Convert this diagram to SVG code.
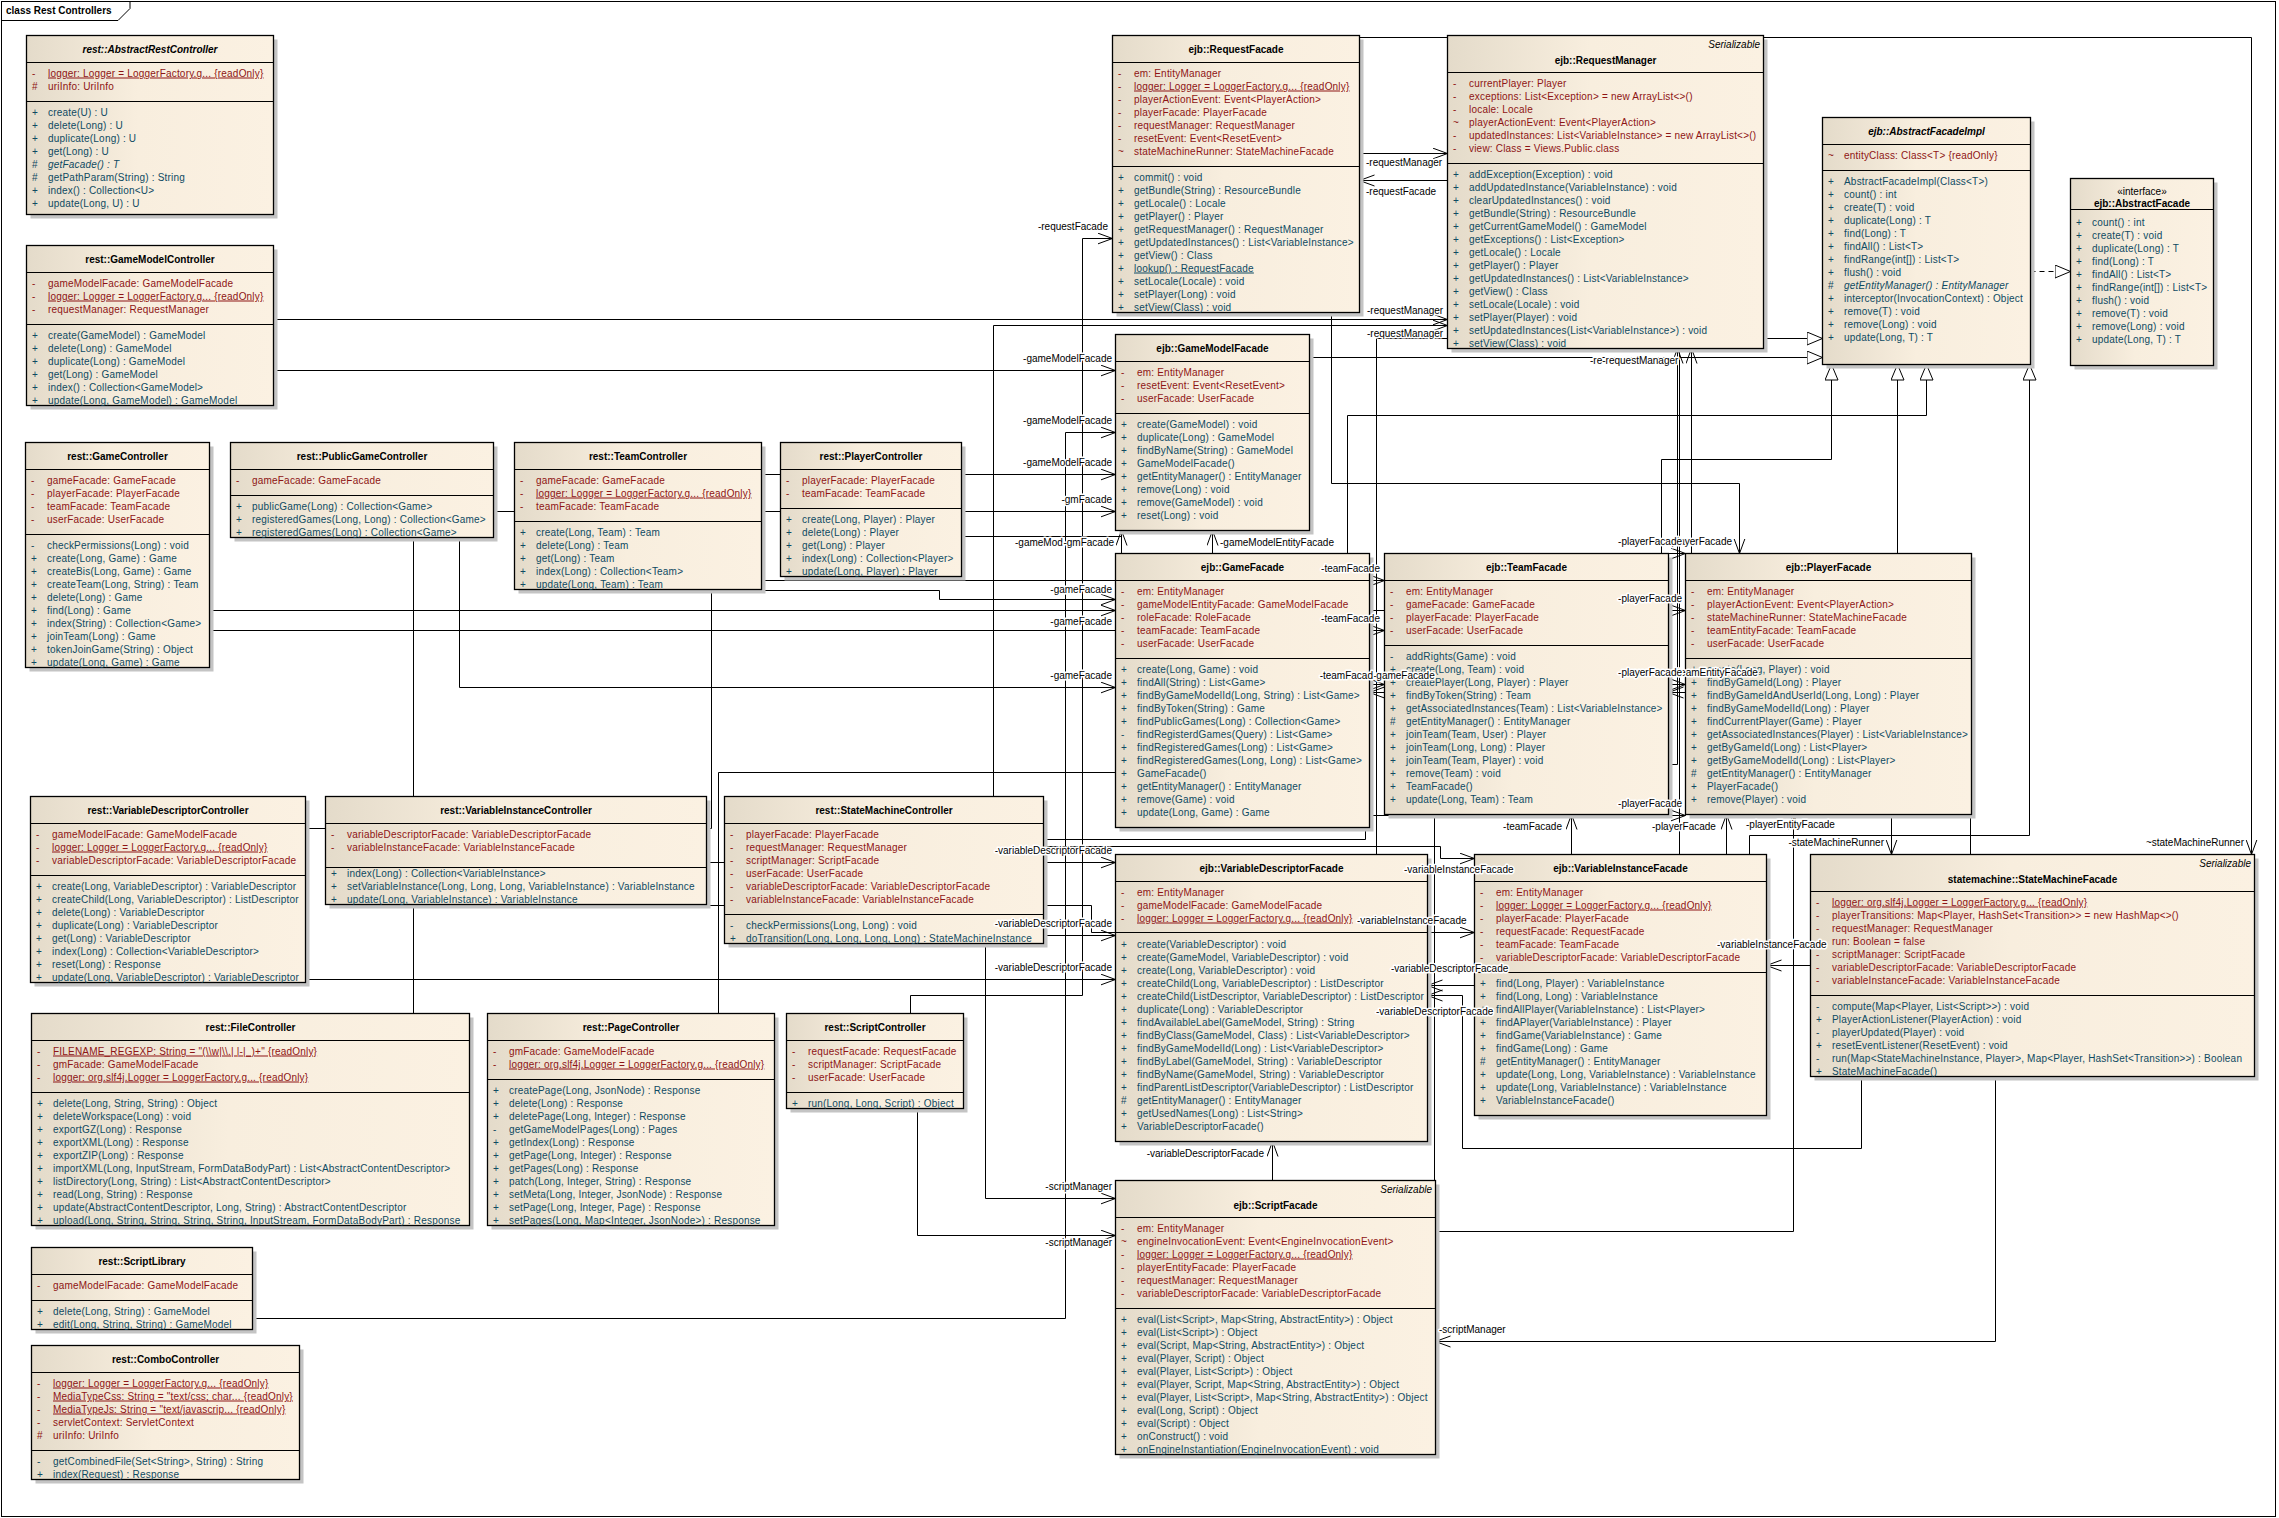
<svg xmlns="http://www.w3.org/2000/svg" width="2279" height="1518" viewBox="0 0 2279 1518" xml:space="preserve">
<defs>
<linearGradient id="g" x1="0" y1="0" x2="1" y2="0"><stop offset="0" stop-color="#E4DBCA"/><stop offset="0.45" stop-color="#F8EEDE"/><stop offset="1" stop-color="#FBF1E2"/></linearGradient>
<marker id="ar" markerUnits="userSpaceOnUse" markerWidth="17" markerHeight="13" refX="15" refY="6" orient="auto"><path d="M0,0.5 L15,6 L0,11.5" fill="none" stroke="#000" stroke-width="1"/></marker>
<marker id="tr" markerUnits="userSpaceOnUse" markerWidth="18" markerHeight="14" refX="16" refY="7" orient="auto"><path d="M0.5,0.5 L16,7 L0.5,13.5 Z" fill="#fff" stroke="#000" stroke-width="1"/></marker>
<style>
.t{font-family:"Liberation Sans",Arial,sans-serif;font-size:10px}
.ti{font-weight:bold;text-anchor:middle;fill:#000}
.it{font-style:italic}
.a{fill:#8E1414;letter-spacing:0.2px}
.m{fill:#0E4A62;letter-spacing:0.2px}
.u{text-decoration:underline}
.box{fill:url(#g);stroke:#000;stroke-width:1.3}
.sh{fill:#C4C4C4}
.sep{stroke:#000;stroke-width:1;fill:none}
.c{fill:none;stroke:#000;stroke-width:1}
.ca{fill:none;stroke:#000;stroke-width:1;marker-end:url(#ar)}
.cg{fill:none;stroke:#000;stroke-width:1;marker-end:url(#tr)}
.lb{font-family:"Liberation Sans",Arial,sans-serif;font-size:10px;fill:#000;stroke:#fff;stroke-width:3;paint-order:stroke;stroke-linejoin:round}
.e{text-anchor:end}
.st{font-family:"Liberation Sans",Arial,sans-serif;font-size:10px;font-style:italic;text-anchor:end;fill:#000}
</style>
</defs>
<rect x="0" y="0" width="2279" height="1518" fill="#fff"/>
<g id="frame">
<rect x="1.5" y="1.5" width="2274" height="1515" fill="none" stroke="#000" stroke-width="1"/>
<path d="M1.5,20.5 H118 L130,8.5 V1.5" fill="none" stroke="#000" stroke-width="1"/>
<text class="t" x="6" y="14" font-weight="bold">class Rest Controllers</text>
</g>

<g id="connectors">
<path class="ca" d="M1359.5,37.5 H2251.5 V854.5"/>
<path class="ca" d="M1359.5,153.5 H1447.5"/>
<path class="ca" d="M1679.5,854.5 V180.5 H1359.5"/>
<path class="ca" d="M273.5,319.5 H1447.5"/>
<path class="ca" d="M993.5,796.5 V325.5 H1447.5"/>
<path class="ca" d="M273.5,370.5 H1115.5"/>
<path class="ca" d="M910.5,1013.5 V995.5 H1082.5 V238.5 H1112.5"/>
<path class="ca" d="M252.5,1318.5 H1065.5 V432.5 H1115.5"/>
<path class="ca" d="M305.5,828.5 H711.5 V474.5 H1115.5"/>
<path class="ca" d="M413.5,1013.5 V511.5 H1115.5"/>
<path class="cg" d="M1309.5,357.5 H1822.5"/>
<path class="cg" d="M1376.5,854.5 V338.5 H1822.5"/>
<path class="cg" d="M1347.5,553.5 V415.5 H1926.5 V364.5"/>
<path class="cg" d="M1661.5,553.5 V459.5 H1831.5 V364.5"/>
<path class="cg" d="M1897.5,553.5 V364.5"/>
<path class="cg" d="M1749.5,854.5 V835.5 H2029.5 V364.5"/>
<path class="cg" d="M2030.5,271.5 H2070.5" stroke-dasharray="5,4"/>
<path class="ca" d="M1331.5,312.5 V483.5 H1739.5 V553.5"/>
<path class="ca" d="M1668.5,553.5 H1685.5"/>
<path class="ca" d="M209.5,610.5 H1685.5"/>
<path class="ca" d="M1100,610.5 H1115.5"/>
<path class="ca" d="M209.5,630.5 H1384.5"/>
<path class="ca" d="M761.5,580.5 H1384.5"/>
<path class="ca" d="M761.5,590.5 H939.5 V599.5 H1115.5"/>
<path class="ca" d="M459.5,537.5 V687.5 H1115.5"/>
<path class="ca" d="M1369.5,684.5 H1384.5"/>
<path class="ca" d="M1384.5,692.5 H1369.5"/>
<path class="ca" d="M1668.5,684.5 H1685.5"/>
<path class="ca" d="M1685.5,692.5 H1668.5"/>
<path class="ca" d="M1043.5,839.5 H1365.5 V815.5 H1685.5"/>
<path class="ca" d="M1571.5,854.5 V814.5"/>
<path class="ca" d="M1726.5,854.5 V814.5"/>
<path class="ca" d="M1435.5,1231.5 H1793.5 V814.5"/>
<path class="ca" d="M1891.5,814.5 V854.5"/>
<path class="c" d="M1970.5,814.5 V854.5"/>
<path class="ca" d="M1810.5,965.5 H1766.5"/>
<path class="ca" d="M1861.5,1076.5 V1148.5 H1462.5 V995.5 H1427.5"/>
<path class="ca" d="M1474.5,985.5 H1427.5"/>
<path class="ca" d="M1995.5,1076.5 V1341.5 H1435.5"/>
<path class="ca" d="M1272.5,1180.5 V1141.5"/>
<path class="ca" d="M1434.5,1180.5 V764.5 H1677.5 V348.5"/>
<path class="ca" d="M1691.5,553.5 V348.5"/>
<path class="ca" d="M706.5,905.5 H1091.5 V932.5 H1474.5"/>
<path class="ca" d="M706.5,862.5 H1115.5"/>
<path class="ca" d="M305.5,979.5 H1115.5"/>
<path class="ca" d="M1043.5,935.5 H1115.5"/>
<path class="ca" d="M1043.5,846.5 H1440.5 V858.5 H1474.5"/>
<path class="ca" d="M917.5,1108.5 V1235.5 H1115.5"/>
<path class="ca" d="M985.5,943.5 V1198.5 H1115.5"/>
<path class="ca" d="M1212.5,553.5 V530.5"/>
<path class="ca" d="M718.5,1013.5 V772.5 H1121.5 V530.5"/>
<path class="c" d="M961.5,536.5 H1121.5"/>
</g>

<g id="n-arc">
<rect class="sh" x="30.5" y="39.5" width="247" height="179"/>
<rect class="box" x="26.5" y="35.5" width="247" height="179"/>
<path class="sep" d="M26.5,62.5H273.5M26.5,101.5H273.5"/>
<text class="t ti it" x="150" y="53">rest::AbstractRestController</text>
<text class="t a" y="76.5"><tspan x="32">-</tspan><tspan x="48" class="u">logger:  Logger = LoggerFactory.g... {readOnly}</tspan></text>
<text class="t a" y="89.5"><tspan x="32">#</tspan><tspan x="48">uriInfo:  UriInfo</tspan></text>
<text class="t m" y="115.5"><tspan x="32">+</tspan><tspan x="48">create(U) : U</tspan></text>
<text class="t m" y="128.5"><tspan x="32">+</tspan><tspan x="48">delete(Long) : U</tspan></text>
<text class="t m" y="141.5"><tspan x="32">+</tspan><tspan x="48">duplicate(Long) : U</tspan></text>
<text class="t m" y="154.5"><tspan x="32">+</tspan><tspan x="48">get(Long) : U</tspan></text>
<text class="t m" y="167.5"><tspan x="32">#</tspan><tspan x="48" class="it">getFacade() : T</tspan></text>
<text class="t m" y="180.5"><tspan x="32">#</tspan><tspan x="48">getPathParam(String) : String</tspan></text>
<text class="t m" y="193.5"><tspan x="32">+</tspan><tspan x="48">index() : Collection&lt;U&gt;</tspan></text>
<text class="t m" y="206.5"><tspan x="32">+</tspan><tspan x="48">update(Long, U) : U</tspan></text>
</g>

<g id="n-gmc">
<rect class="sh" x="30.5" y="249.5" width="247" height="160"/>
<rect class="box" x="26.5" y="245.5" width="247" height="160"/>
<path class="sep" d="M26.5,272.5H273.5M26.5,324.5H273.5"/>
<text class="t ti" x="150" y="263">rest::GameModelController</text>
<text class="t a" y="286.5"><tspan x="32">-</tspan><tspan x="48">gameModelFacade:  GameModelFacade</tspan></text>
<text class="t a" y="299.5"><tspan x="32">-</tspan><tspan x="48" class="u">logger:  Logger = LoggerFactory.g... {readOnly}</tspan></text>
<text class="t a" y="312.5"><tspan x="32">-</tspan><tspan x="48">requestManager:  RequestManager</tspan></text>
<text class="t m" y="338.5"><tspan x="32">+</tspan><tspan x="48">create(GameModel) : GameModel</tspan></text>
<text class="t m" y="351.5"><tspan x="32">+</tspan><tspan x="48">delete(Long) : GameModel</tspan></text>
<text class="t m" y="364.5"><tspan x="32">+</tspan><tspan x="48">duplicate(Long) : GameModel</tspan></text>
<text class="t m" y="377.5"><tspan x="32">+</tspan><tspan x="48">get(Long) : GameModel</tspan></text>
<text class="t m" y="390.5"><tspan x="32">+</tspan><tspan x="48">index() : Collection&lt;GameModel&gt;</tspan></text>
<text class="t m" y="403.5"><tspan x="32">+</tspan><tspan x="48">update(Long, GameModel) : GameModel</tspan></text>
</g>

<g id="n-gc">
<rect class="sh" x="29.5" y="446.5" width="184" height="225"/>
<rect class="box" x="25.5" y="442.5" width="184" height="225"/>
<path class="sep" d="M25.5,469.5H209.5M25.5,534.5H209.5"/>
<text class="t ti" x="117.5" y="460">rest::GameController</text>
<text class="t a" y="483.5"><tspan x="31">-</tspan><tspan x="47">gameFacade:  GameFacade</tspan></text>
<text class="t a" y="496.5"><tspan x="31">-</tspan><tspan x="47">playerFacade:  PlayerFacade</tspan></text>
<text class="t a" y="509.5"><tspan x="31">-</tspan><tspan x="47">teamFacade:  TeamFacade</tspan></text>
<text class="t a" y="522.5"><tspan x="31">-</tspan><tspan x="47">userFacade:  UserFacade</tspan></text>
<text class="t m" y="548.5"><tspan x="31">-</tspan><tspan x="47">checkPermissions(Long) : void</tspan></text>
<text class="t m" y="561.5"><tspan x="31">+</tspan><tspan x="47">create(Long, Game) : Game</tspan></text>
<text class="t m" y="574.5"><tspan x="31">+</tspan><tspan x="47">createBis(Long, Game) : Game</tspan></text>
<text class="t m" y="587.5"><tspan x="31">+</tspan><tspan x="47">createTeam(Long, String) : Team</tspan></text>
<text class="t m" y="600.5"><tspan x="31">+</tspan><tspan x="47">delete(Long) : Game</tspan></text>
<text class="t m" y="613.5"><tspan x="31">+</tspan><tspan x="47">find(Long) : Game</tspan></text>
<text class="t m" y="626.5"><tspan x="31">+</tspan><tspan x="47">index(String) : Collection&lt;Game&gt;</tspan></text>
<text class="t m" y="639.5"><tspan x="31">+</tspan><tspan x="47">joinTeam(Long) : Game</tspan></text>
<text class="t m" y="652.5"><tspan x="31">+</tspan><tspan x="47">tokenJoinGame(String) : Object</tspan></text>
<text class="t m" y="665.5"><tspan x="31">+</tspan><tspan x="47">update(Long, Game) : Game</tspan></text>
</g>

<g id="n-pgc">
<rect class="sh" x="234.5" y="446.5" width="263" height="95"/>
<rect class="box" x="230.5" y="442.5" width="263" height="95"/>
<path class="sep" d="M230.5,469.5H493.5M230.5,495.5H493.5"/>
<text class="t ti" x="362" y="460">rest::PublicGameController</text>
<text class="t a" y="483.5"><tspan x="236">-</tspan><tspan x="252">gameFacade:  GameFacade</tspan></text>
<text class="t m" y="509.5"><tspan x="236">+</tspan><tspan x="252">publicGame(Long) : Collection&lt;Game&gt;</tspan></text>
<text class="t m" y="522.5"><tspan x="236">+</tspan><tspan x="252">registeredGames(Long, Long) : Collection&lt;Game&gt;</tspan></text>
<text class="t m" y="535.5"><tspan x="236">+</tspan><tspan x="252">registeredGames(Long) : Collection&lt;Game&gt;</tspan></text>
</g>

<g id="n-tc">
<rect class="sh" x="518.5" y="446.5" width="247" height="147"/>
<rect class="box" x="514.5" y="442.5" width="247" height="147"/>
<path class="sep" d="M514.5,469.5H761.5M514.5,521.5H761.5"/>
<text class="t ti" x="638" y="460">rest::TeamController</text>
<text class="t a" y="483.5"><tspan x="520">-</tspan><tspan x="536">gameFacade:  GameFacade</tspan></text>
<text class="t a" y="496.5"><tspan x="520">-</tspan><tspan x="536" class="u">logger:  Logger = LoggerFactory.g... {readOnly}</tspan></text>
<text class="t a" y="509.5"><tspan x="520">-</tspan><tspan x="536">teamFacade:  TeamFacade</tspan></text>
<text class="t m" y="535.5"><tspan x="520">+</tspan><tspan x="536">create(Long, Team) : Team</tspan></text>
<text class="t m" y="548.5"><tspan x="520">+</tspan><tspan x="536">delete(Long) : Team</tspan></text>
<text class="t m" y="561.5"><tspan x="520">+</tspan><tspan x="536">get(Long) : Team</tspan></text>
<text class="t m" y="574.5"><tspan x="520">+</tspan><tspan x="536">index(Long) : Collection&lt;Team&gt;</tspan></text>
<text class="t m" y="587.5"><tspan x="520">+</tspan><tspan x="536">update(Long, Team) : Team</tspan></text>
</g>

<g id="n-pc">
<rect class="sh" x="784.5" y="446.5" width="181" height="134"/>
<rect class="box" x="780.5" y="442.5" width="181" height="134"/>
<path class="sep" d="M780.5,469.5H961.5M780.5,508.5H961.5"/>
<text class="t ti" x="871" y="460">rest::PlayerController</text>
<text class="t a" y="483.5"><tspan x="786">-</tspan><tspan x="802">playerFacade:  PlayerFacade</tspan></text>
<text class="t a" y="496.5"><tspan x="786">-</tspan><tspan x="802">teamFacade:  TeamFacade</tspan></text>
<text class="t m" y="522.5"><tspan x="786">+</tspan><tspan x="802">create(Long, Player) : Player</tspan></text>
<text class="t m" y="535.5"><tspan x="786">+</tspan><tspan x="802">delete(Long) : Player</tspan></text>
<text class="t m" y="548.5"><tspan x="786">+</tspan><tspan x="802">get(Long) : Player</tspan></text>
<text class="t m" y="561.5"><tspan x="786">+</tspan><tspan x="802">index(Long) : Collection&lt;Player&gt;</tspan></text>
<text class="t m" y="574.5"><tspan x="786">+</tspan><tspan x="802">update(Long, Player) : Player</tspan></text>
</g>

<g id="n-vdc">
<rect class="sh" x="34.5" y="800.5" width="275" height="186"/>
<rect class="box" x="30.5" y="796.5" width="275" height="186"/>
<path class="sep" d="M30.5,823.5H305.5M30.5,875.5H305.5"/>
<text class="t ti" x="168" y="814">rest::VariableDescriptorController</text>
<text class="t a" y="837.5"><tspan x="36">-</tspan><tspan x="52">gameModelFacade:  GameModelFacade</tspan></text>
<text class="t a" y="850.5"><tspan x="36">-</tspan><tspan x="52" class="u">logger:  Logger = LoggerFactory.g... {readOnly}</tspan></text>
<text class="t a" y="863.5"><tspan x="36">-</tspan><tspan x="52">variableDescriptorFacade:  VariableDescriptorFacade</tspan></text>
<text class="t m" y="889.5"><tspan x="36">+</tspan><tspan x="52">create(Long, VariableDescriptor) : VariableDescriptor</tspan></text>
<text class="t m" y="902.5"><tspan x="36">+</tspan><tspan x="52">createChild(Long, VariableDescriptor) : ListDescriptor</tspan></text>
<text class="t m" y="915.5"><tspan x="36">+</tspan><tspan x="52">delete(Long) : VariableDescriptor</tspan></text>
<text class="t m" y="928.5"><tspan x="36">+</tspan><tspan x="52">duplicate(Long) : VariableDescriptor</tspan></text>
<text class="t m" y="941.5"><tspan x="36">+</tspan><tspan x="52">get(Long) : VariableDescriptor</tspan></text>
<text class="t m" y="954.5"><tspan x="36">+</tspan><tspan x="52">index(Long) : Collection&lt;VariableDescriptor&gt;</tspan></text>
<text class="t m" y="967.5"><tspan x="36">+</tspan><tspan x="52">reset(Long) : Response</tspan></text>
<text class="t m" y="980.5"><tspan x="36">+</tspan><tspan x="52">update(Long, VariableDescriptor) : VariableDescriptor</tspan></text>
</g>

<g id="n-vic">
<rect class="sh" x="329.5" y="800.5" width="381" height="108"/>
<rect class="box" x="325.5" y="796.5" width="381" height="108"/>
<path class="sep" d="M325.5,823.5H706.5M325.5,867.5H706.5"/>
<text class="t ti" x="516" y="814">rest::VariableInstanceController</text>
<text class="t a" y="837.5"><tspan x="331">-</tspan><tspan x="347">variableDescriptorFacade:  VariableDescriptorFacade</tspan></text>
<text class="t a" y="850.5"><tspan x="331">-</tspan><tspan x="347">variableInstanceFacade:  VariableInstanceFacade</tspan></text>
<text class="t m" y="876.5"><tspan x="331">+</tspan><tspan x="347">index(Long) : Collection&lt;VariableInstance&gt;</tspan></text>
<text class="t m" y="889.5"><tspan x="331">+</tspan><tspan x="347">setVariableInstance(Long, Long, Long, VariableInstance) : VariableInstance</tspan></text>
<text class="t m" y="902.5"><tspan x="331">+</tspan><tspan x="347">update(Long, VariableInstance) : VariableInstance</tspan></text>
</g>

<g id="n-smc">
<rect class="sh" x="728.5" y="800.5" width="319" height="147"/>
<rect class="box" x="724.5" y="796.5" width="319" height="147"/>
<path class="sep" d="M724.5,823.5H1043.5M724.5,914.5H1043.5"/>
<text class="t ti" x="884" y="814">rest::StateMachineController</text>
<text class="t a" y="837.5"><tspan x="730">-</tspan><tspan x="746">playerFacade:  PlayerFacade</tspan></text>
<text class="t a" y="850.5"><tspan x="730">-</tspan><tspan x="746">requestManager:  RequestManager</tspan></text>
<text class="t a" y="863.5"><tspan x="730">-</tspan><tspan x="746">scriptManager:  ScriptFacade</tspan></text>
<text class="t a" y="876.5"><tspan x="730">-</tspan><tspan x="746">userFacade:  UserFacade</tspan></text>
<text class="t a" y="889.5"><tspan x="730">-</tspan><tspan x="746">variableDescriptorFacade:  VariableDescriptorFacade</tspan></text>
<text class="t a" y="902.5"><tspan x="730">-</tspan><tspan x="746">variableInstanceFacade:  VariableInstanceFacade</tspan></text>
<text class="t m" y="928.5"><tspan x="730">-</tspan><tspan x="746">checkPermissions(Long, Long) : void</tspan></text>
<text class="t m" y="941.5"><tspan x="730">+</tspan><tspan x="746">doTransition(Long, Long, Long, Long) : StateMachineInstance</tspan></text>
</g>

<g id="n-fc">
<rect class="sh" x="35.5" y="1017.5" width="438" height="212"/>
<rect class="box" x="31.5" y="1013.5" width="438" height="212"/>
<path class="sep" d="M31.5,1040.5H469.5M31.5,1092.5H469.5"/>
<text class="t ti" x="250.5" y="1031">rest::FileController</text>
<text class="t a" y="1054.5"><tspan x="37">-</tspan><tspan x="53" class="u">FILENAME_REGEXP:  String = "(\\w|\\.| |-|_)+" {readOnly}</tspan></text>
<text class="t a" y="1067.5"><tspan x="37">-</tspan><tspan x="53">gmFacade:  GameModelFacade</tspan></text>
<text class="t a" y="1080.5"><tspan x="37">-</tspan><tspan x="53" class="u">logger:  org.slf4j.Logger = LoggerFactory.g... {readOnly}</tspan></text>
<text class="t m" y="1106.5"><tspan x="37">+</tspan><tspan x="53">delete(Long, String, String) : Object</tspan></text>
<text class="t m" y="1119.5"><tspan x="37">+</tspan><tspan x="53">deleteWorkspace(Long) : void</tspan></text>
<text class="t m" y="1132.5"><tspan x="37">+</tspan><tspan x="53">exportGZ(Long) : Response</tspan></text>
<text class="t m" y="1145.5"><tspan x="37">+</tspan><tspan x="53">exportXML(Long) : Response</tspan></text>
<text class="t m" y="1158.5"><tspan x="37">+</tspan><tspan x="53">exportZIP(Long) : Response</tspan></text>
<text class="t m" y="1171.5"><tspan x="37">+</tspan><tspan x="53">importXML(Long, InputStream, FormDataBodyPart) : List&lt;AbstractContentDescriptor&gt;</tspan></text>
<text class="t m" y="1184.5"><tspan x="37">+</tspan><tspan x="53">listDirectory(Long, String) : List&lt;AbstractContentDescriptor&gt;</tspan></text>
<text class="t m" y="1197.5"><tspan x="37">+</tspan><tspan x="53">read(Long, String) : Response</tspan></text>
<text class="t m" y="1210.5"><tspan x="37">+</tspan><tspan x="53">update(AbstractContentDescriptor, Long, String) : AbstractContentDescriptor</tspan></text>
<text class="t m" y="1223.5"><tspan x="37">+</tspan><tspan x="53">upload(Long, String, String, String, String, InputStream, FormDataBodyPart) : Response</tspan></text>
</g>

<g id="n-pgcn">
<rect class="sh" x="491.5" y="1017.5" width="287" height="212"/>
<rect class="box" x="487.5" y="1013.5" width="287" height="212"/>
<path class="sep" d="M487.5,1040.5H774.5M487.5,1079.5H774.5"/>
<text class="t ti" x="631" y="1031">rest::PageController</text>
<text class="t a" y="1054.5"><tspan x="493">-</tspan><tspan x="509">gmFacade:  GameModelFacade</tspan></text>
<text class="t a" y="1067.5"><tspan x="493">-</tspan><tspan x="509" class="u">logger:  org.slf4j.Logger = LoggerFactory.g... {readOnly}</tspan></text>
<text class="t m" y="1093.5"><tspan x="493">+</tspan><tspan x="509">createPage(Long, JsonNode) : Response</tspan></text>
<text class="t m" y="1106.5"><tspan x="493">+</tspan><tspan x="509">delete(Long) : Response</tspan></text>
<text class="t m" y="1119.5"><tspan x="493">+</tspan><tspan x="509">deletePage(Long, Integer) : Response</tspan></text>
<text class="t m" y="1132.5"><tspan x="493">-</tspan><tspan x="509">getGameModelPages(Long) : Pages</tspan></text>
<text class="t m" y="1145.5"><tspan x="493">+</tspan><tspan x="509">getIndex(Long) : Response</tspan></text>
<text class="t m" y="1158.5"><tspan x="493">+</tspan><tspan x="509">getPage(Long, Integer) : Response</tspan></text>
<text class="t m" y="1171.5"><tspan x="493">+</tspan><tspan x="509">getPages(Long) : Response</tspan></text>
<text class="t m" y="1184.5"><tspan x="493">+</tspan><tspan x="509">patch(Long, Integer, String) : Response</tspan></text>
<text class="t m" y="1197.5"><tspan x="493">+</tspan><tspan x="509">setMeta(Long, Integer, JsonNode) : Response</tspan></text>
<text class="t m" y="1210.5"><tspan x="493">+</tspan><tspan x="509">setPage(Long, Integer, Page) : Response</tspan></text>
<text class="t m" y="1223.5"><tspan x="493">+</tspan><tspan x="509">setPages(Long, Map&lt;Integer, JsonNode&gt;) : Response</tspan></text>
</g>

<g id="n-sc">
<rect class="sh" x="790.5" y="1017.5" width="177" height="95"/>
<rect class="box" x="786.5" y="1013.5" width="177" height="95"/>
<path class="sep" d="M786.5,1040.5H963.5M786.5,1092.5H963.5"/>
<text class="t ti" x="875" y="1031">rest::ScriptController</text>
<text class="t a" y="1054.5"><tspan x="792">-</tspan><tspan x="808">requestFacade:  RequestFacade</tspan></text>
<text class="t a" y="1067.5"><tspan x="792">-</tspan><tspan x="808">scriptManager:  ScriptFacade</tspan></text>
<text class="t a" y="1080.5"><tspan x="792">-</tspan><tspan x="808">userFacade:  UserFacade</tspan></text>
<text class="t m" y="1106.5"><tspan x="792">+</tspan><tspan x="808">run(Long, Long, Script) : Object</tspan></text>
</g>

<g id="n-sl">
<rect class="sh" x="35.5" y="1251.5" width="221" height="82"/>
<rect class="box" x="31.5" y="1247.5" width="221" height="82"/>
<path class="sep" d="M31.5,1274.5H252.5M31.5,1300.5H252.5"/>
<text class="t ti" x="142" y="1265">rest::ScriptLibrary</text>
<text class="t a" y="1288.5"><tspan x="37">-</tspan><tspan x="53">gameModelFacade:  GameModelFacade</tspan></text>
<text class="t m" y="1314.5"><tspan x="37">+</tspan><tspan x="53">delete(Long, String) : GameModel</tspan></text>
<text class="t m" y="1327.5"><tspan x="37">+</tspan><tspan x="53">edit(Long, String, String) : GameModel</tspan></text>
</g>

<g id="n-cc">
<rect class="sh" x="35.5" y="1349.5" width="268" height="134"/>
<rect class="box" x="31.5" y="1345.5" width="268" height="134"/>
<path class="sep" d="M31.5,1372.5H299.5M31.5,1450.5H299.5"/>
<text class="t ti" x="165.5" y="1363">rest::ComboController</text>
<text class="t a" y="1386.5"><tspan x="37">-</tspan><tspan x="53" class="u">logger:  Logger = LoggerFactory.g... {readOnly}</tspan></text>
<text class="t a" y="1399.5"><tspan x="37">-</tspan><tspan x="53" class="u">MediaTypeCss:  String = "text/css; char... {readOnly}</tspan></text>
<text class="t a" y="1412.5"><tspan x="37">-</tspan><tspan x="53" class="u">MediaTypeJs:  String = "text/javascrip... {readOnly}</tspan></text>
<text class="t a" y="1425.5"><tspan x="37">-</tspan><tspan x="53">servletContext:  ServletContext</tspan></text>
<text class="t a" y="1438.5"><tspan x="37">#</tspan><tspan x="53">uriInfo:  UriInfo</tspan></text>
<text class="t m" y="1464.5"><tspan x="37">-</tspan><tspan x="53">getCombinedFile(Set&lt;String&gt;, String) : String</tspan></text>
<text class="t m" y="1477.5"><tspan x="37">+</tspan><tspan x="53">index(Request) : Response</tspan></text>
</g>

<g id="n-rf">
<rect class="sh" x="1116.5" y="39.5" width="247" height="277"/>
<rect class="box" x="1112.5" y="35.5" width="247" height="277"/>
<path class="sep" d="M1112.5,62.5H1359.5M1112.5,166.5H1359.5"/>
<text class="t ti" x="1236" y="53">ejb::RequestFacade</text>
<text class="t a" y="76.5"><tspan x="1118">-</tspan><tspan x="1134">em:  EntityManager</tspan></text>
<text class="t a" y="89.5"><tspan x="1118">-</tspan><tspan x="1134" class="u">logger:  Logger = LoggerFactory.g... {readOnly}</tspan></text>
<text class="t a" y="102.5"><tspan x="1118">-</tspan><tspan x="1134">playerActionEvent:  Event&lt;PlayerAction&gt;</tspan></text>
<text class="t a" y="115.5"><tspan x="1118">-</tspan><tspan x="1134">playerFacade:  PlayerFacade</tspan></text>
<text class="t a" y="128.5"><tspan x="1118">-</tspan><tspan x="1134">requestManager:  RequestManager</tspan></text>
<text class="t a" y="141.5"><tspan x="1118">-</tspan><tspan x="1134">resetEvent:  Event&lt;ResetEvent&gt;</tspan></text>
<text class="t a" y="154.5"><tspan x="1118">~</tspan><tspan x="1134">stateMachineRunner:  StateMachineFacade</tspan></text>
<text class="t m" y="180.5"><tspan x="1118">+</tspan><tspan x="1134">commit() : void</tspan></text>
<text class="t m" y="193.5"><tspan x="1118">+</tspan><tspan x="1134">getBundle(String) : ResourceBundle</tspan></text>
<text class="t m" y="206.5"><tspan x="1118">+</tspan><tspan x="1134">getLocale() : Locale</tspan></text>
<text class="t m" y="219.5"><tspan x="1118">+</tspan><tspan x="1134">getPlayer() : Player</tspan></text>
<text class="t m" y="232.5"><tspan x="1118">+</tspan><tspan x="1134">getRequestManager() : RequestManager</tspan></text>
<text class="t m" y="245.5"><tspan x="1118">+</tspan><tspan x="1134">getUpdatedInstances() : List&lt;VariableInstance&gt;</tspan></text>
<text class="t m" y="258.5"><tspan x="1118">+</tspan><tspan x="1134">getView() : Class</tspan></text>
<text class="t m" y="271.5"><tspan x="1118">+</tspan><tspan x="1134" class="u">lookup() : RequestFacade</tspan></text>
<text class="t m" y="284.5"><tspan x="1118">+</tspan><tspan x="1134">setLocale(Locale) : void</tspan></text>
<text class="t m" y="297.5"><tspan x="1118">+</tspan><tspan x="1134">setPlayer(Long) : void</tspan></text>
<text class="t m" y="310.5"><tspan x="1118">+</tspan><tspan x="1134">setView(Class) : void</tspan></text>
</g>

<g id="n-rm">
<rect class="sh" x="1451.5" y="39.5" width="316" height="313"/>
<rect class="box" x="1447.5" y="35.5" width="316" height="313"/>
<path class="sep" d="M1447.5,72.5H1763.5M1447.5,163.5H1763.5"/>
<text class="st" x="1760" y="48">Serializable</text>
<text class="t ti" x="1605.5" y="64">ejb::RequestManager</text>
<text class="t a" y="86.5"><tspan x="1453">-</tspan><tspan x="1469">currentPlayer:  Player</tspan></text>
<text class="t a" y="99.5"><tspan x="1453">-</tspan><tspan x="1469">exceptions:  List&lt;Exception&gt; = new ArrayList&lt;&gt;()</tspan></text>
<text class="t a" y="112.5"><tspan x="1453">-</tspan><tspan x="1469">locale:  Locale</tspan></text>
<text class="t a" y="125.5"><tspan x="1453">~</tspan><tspan x="1469">playerActionEvent:  Event&lt;PlayerAction&gt;</tspan></text>
<text class="t a" y="138.5"><tspan x="1453">-</tspan><tspan x="1469">updatedInstances:  List&lt;VariableInstance&gt; = new ArrayList&lt;&gt;()</tspan></text>
<text class="t a" y="151.5"><tspan x="1453">-</tspan><tspan x="1469">view:  Class = Views.Public.class</tspan></text>
<text class="t m" y="177.5"><tspan x="1453">+</tspan><tspan x="1469">addException(Exception) : void</tspan></text>
<text class="t m" y="190.5"><tspan x="1453">+</tspan><tspan x="1469">addUpdatedInstance(VariableInstance) : void</tspan></text>
<text class="t m" y="203.5"><tspan x="1453">+</tspan><tspan x="1469">clearUpdatedInstances() : void</tspan></text>
<text class="t m" y="216.5"><tspan x="1453">+</tspan><tspan x="1469">getBundle(String) : ResourceBundle</tspan></text>
<text class="t m" y="229.5"><tspan x="1453">+</tspan><tspan x="1469">getCurrentGameModel() : GameModel</tspan></text>
<text class="t m" y="242.5"><tspan x="1453">+</tspan><tspan x="1469">getExceptions() : List&lt;Exception&gt;</tspan></text>
<text class="t m" y="255.5"><tspan x="1453">+</tspan><tspan x="1469">getLocale() : Locale</tspan></text>
<text class="t m" y="268.5"><tspan x="1453">+</tspan><tspan x="1469">getPlayer() : Player</tspan></text>
<text class="t m" y="281.5"><tspan x="1453">+</tspan><tspan x="1469">getUpdatedInstances() : List&lt;VariableInstance&gt;</tspan></text>
<text class="t m" y="294.5"><tspan x="1453">+</tspan><tspan x="1469">getView() : Class</tspan></text>
<text class="t m" y="307.5"><tspan x="1453">+</tspan><tspan x="1469">setLocale(Locale) : void</tspan></text>
<text class="t m" y="320.5"><tspan x="1453">+</tspan><tspan x="1469">setPlayer(Player) : void</tspan></text>
<text class="t m" y="333.5"><tspan x="1453">+</tspan><tspan x="1469">setUpdatedInstances(List&lt;VariableInstance&gt;) : void</tspan></text>
<text class="t m" y="346.5"><tspan x="1453">+</tspan><tspan x="1469">setView(Class) : void</tspan></text>
</g>

<g id="n-gmf">
<rect class="sh" x="1119.5" y="338.5" width="194" height="196"/>
<rect class="box" x="1115.5" y="334.5" width="194" height="196"/>
<path class="sep" d="M1115.5,361.5H1309.5M1115.5,413.5H1309.5"/>
<text class="t ti" x="1212.5" y="352">ejb::GameModelFacade</text>
<text class="t a" y="375.5"><tspan x="1121">-</tspan><tspan x="1137">em:  EntityManager</tspan></text>
<text class="t a" y="388.5"><tspan x="1121">-</tspan><tspan x="1137">resetEvent:  Event&lt;ResetEvent&gt;</tspan></text>
<text class="t a" y="401.5"><tspan x="1121">-</tspan><tspan x="1137">userFacade:  UserFacade</tspan></text>
<text class="t m" y="427.5"><tspan x="1121">+</tspan><tspan x="1137">create(GameModel) : void</tspan></text>
<text class="t m" y="440.5"><tspan x="1121">+</tspan><tspan x="1137">duplicate(Long) : GameModel</tspan></text>
<text class="t m" y="453.5"><tspan x="1121">+</tspan><tspan x="1137">findByName(String) : GameModel</tspan></text>
<text class="t m" y="466.5"><tspan x="1121">+</tspan><tspan x="1137">GameModelFacade()</tspan></text>
<text class="t m" y="479.5"><tspan x="1121">+</tspan><tspan x="1137">getEntityManager() : EntityManager</tspan></text>
<text class="t m" y="492.5"><tspan x="1121">+</tspan><tspan x="1137">remove(Long) : void</tspan></text>
<text class="t m" y="505.5"><tspan x="1121">+</tspan><tspan x="1137">remove(GameModel) : void</tspan></text>
<text class="t m" y="518.5"><tspan x="1121">+</tspan><tspan x="1137">reset(Long) : void</tspan></text>
</g>

<g id="n-afi">
<rect class="sh" x="1826.5" y="121.5" width="208" height="247"/>
<rect class="box" x="1822.5" y="117.5" width="208" height="247"/>
<path class="sep" d="M1822.5,144.5H2030.5M1822.5,170.5H2030.5"/>
<text class="t ti it" x="1926.5" y="135">ejb::AbstractFacadeImpl</text>
<text class="t a" y="158.5"><tspan x="1828">~</tspan><tspan x="1844">entityClass:  Class&lt;T&gt; {readOnly}</tspan></text>
<text class="t m" y="184.5"><tspan x="1828">+</tspan><tspan x="1844">AbstractFacadeImpl(Class&lt;T&gt;)</tspan></text>
<text class="t m" y="197.5"><tspan x="1828">+</tspan><tspan x="1844">count() : int</tspan></text>
<text class="t m" y="210.5"><tspan x="1828">+</tspan><tspan x="1844">create(T) : void</tspan></text>
<text class="t m" y="223.5"><tspan x="1828">+</tspan><tspan x="1844">duplicate(Long) : T</tspan></text>
<text class="t m" y="236.5"><tspan x="1828">+</tspan><tspan x="1844">find(Long) : T</tspan></text>
<text class="t m" y="249.5"><tspan x="1828">+</tspan><tspan x="1844">findAll() : List&lt;T&gt;</tspan></text>
<text class="t m" y="262.5"><tspan x="1828">+</tspan><tspan x="1844">findRange(int[]) : List&lt;T&gt;</tspan></text>
<text class="t m" y="275.5"><tspan x="1828">+</tspan><tspan x="1844">flush() : void</tspan></text>
<text class="t m" y="288.5"><tspan x="1828">#</tspan><tspan x="1844" class="it">getEntityManager() : EntityManager</tspan></text>
<text class="t m" y="301.5"><tspan x="1828">+</tspan><tspan x="1844">interceptor(InvocationContext) : Object</tspan></text>
<text class="t m" y="314.5"><tspan x="1828">+</tspan><tspan x="1844">remove(T) : void</tspan></text>
<text class="t m" y="327.5"><tspan x="1828">+</tspan><tspan x="1844">remove(Long) : void</tspan></text>
<text class="t m" y="340.5"><tspan x="1828">+</tspan><tspan x="1844">update(Long, T) : T</tspan></text>
</g>

<g id="n-af">
<rect class="sh" x="2074.5" y="182.5" width="143" height="187"/>
<rect class="box" x="2070.5" y="178.5" width="143" height="187"/>
<path class="sep" d="M2070.5,209.5H2213.5"/>
<text class="t" x="2142" y="194.5" text-anchor="middle">«interface»</text>
<text class="t ti" x="2142" y="207">ejb::AbstractFacade</text>
<text class="t m" y="225.5"><tspan x="2076">+</tspan><tspan x="2092">count() : int</tspan></text>
<text class="t m" y="238.5"><tspan x="2076">+</tspan><tspan x="2092">create(T) : void</tspan></text>
<text class="t m" y="251.5"><tspan x="2076">+</tspan><tspan x="2092">duplicate(Long) : T</tspan></text>
<text class="t m" y="264.5"><tspan x="2076">+</tspan><tspan x="2092">find(Long) : T</tspan></text>
<text class="t m" y="277.5"><tspan x="2076">+</tspan><tspan x="2092">findAll() : List&lt;T&gt;</tspan></text>
<text class="t m" y="290.5"><tspan x="2076">+</tspan><tspan x="2092">findRange(int[]) : List&lt;T&gt;</tspan></text>
<text class="t m" y="303.5"><tspan x="2076">+</tspan><tspan x="2092">flush() : void</tspan></text>
<text class="t m" y="316.5"><tspan x="2076">+</tspan><tspan x="2092">remove(T) : void</tspan></text>
<text class="t m" y="329.5"><tspan x="2076">+</tspan><tspan x="2092">remove(Long) : void</tspan></text>
<text class="t m" y="342.5"><tspan x="2076">+</tspan><tspan x="2092">update(Long, T) : T</tspan></text>
</g>

<g id="n-gf">
<rect class="sh" x="1119.5" y="557.5" width="254" height="274"/>
<rect class="box" x="1115.5" y="553.5" width="254" height="274"/>
<path class="sep" d="M1115.5,580.5H1369.5M1115.5,658.5H1369.5"/>
<text class="t ti" x="1242.5" y="571">ejb::GameFacade</text>
<text class="t a" y="594.5"><tspan x="1121">-</tspan><tspan x="1137">em:  EntityManager</tspan></text>
<text class="t a" y="607.5"><tspan x="1121">-</tspan><tspan x="1137">gameModelEntityFacade:  GameModelFacade</tspan></text>
<text class="t a" y="620.5"><tspan x="1121">-</tspan><tspan x="1137">roleFacade:  RoleFacade</tspan></text>
<text class="t a" y="633.5"><tspan x="1121">-</tspan><tspan x="1137">teamFacade:  TeamFacade</tspan></text>
<text class="t a" y="646.5"><tspan x="1121">-</tspan><tspan x="1137">userFacade:  UserFacade</tspan></text>
<text class="t m" y="672.5"><tspan x="1121">+</tspan><tspan x="1137">create(Long, Game) : void</tspan></text>
<text class="t m" y="685.5"><tspan x="1121">+</tspan><tspan x="1137">findAll(String) : List&lt;Game&gt;</tspan></text>
<text class="t m" y="698.5"><tspan x="1121">+</tspan><tspan x="1137">findByGameModelId(Long, String) : List&lt;Game&gt;</tspan></text>
<text class="t m" y="711.5"><tspan x="1121">+</tspan><tspan x="1137">findByToken(String) : Game</tspan></text>
<text class="t m" y="724.5"><tspan x="1121">+</tspan><tspan x="1137">findPublicGames(Long) : Collection&lt;Game&gt;</tspan></text>
<text class="t m" y="737.5"><tspan x="1121">-</tspan><tspan x="1137">findRegisterdGames(Query) : List&lt;Game&gt;</tspan></text>
<text class="t m" y="750.5"><tspan x="1121">+</tspan><tspan x="1137">findRegisteredGames(Long) : List&lt;Game&gt;</tspan></text>
<text class="t m" y="763.5"><tspan x="1121">+</tspan><tspan x="1137">findRegisteredGames(Long, Long) : List&lt;Game&gt;</tspan></text>
<text class="t m" y="776.5"><tspan x="1121">+</tspan><tspan x="1137">GameFacade()</tspan></text>
<text class="t m" y="789.5"><tspan x="1121">+</tspan><tspan x="1137">getEntityManager() : EntityManager</tspan></text>
<text class="t m" y="802.5"><tspan x="1121">+</tspan><tspan x="1137">remove(Game) : void</tspan></text>
<text class="t m" y="815.5"><tspan x="1121">+</tspan><tspan x="1137">update(Long, Game) : Game</tspan></text>
</g>

<g id="n-tf">
<rect class="sh" x="1388.5" y="557.5" width="284" height="261"/>
<rect class="box" x="1384.5" y="553.5" width="284" height="261"/>
<path class="sep" d="M1384.5,580.5H1668.5M1384.5,645.5H1668.5"/>
<text class="t ti" x="1526.5" y="571">ejb::TeamFacade</text>
<text class="t a" y="594.5"><tspan x="1390">-</tspan><tspan x="1406">em:  EntityManager</tspan></text>
<text class="t a" y="607.5"><tspan x="1390">-</tspan><tspan x="1406">gameFacade:  GameFacade</tspan></text>
<text class="t a" y="620.5"><tspan x="1390">-</tspan><tspan x="1406">playerFacade:  PlayerFacade</tspan></text>
<text class="t a" y="633.5"><tspan x="1390">-</tspan><tspan x="1406">userFacade:  UserFacade</tspan></text>
<text class="t m" y="659.5"><tspan x="1390">-</tspan><tspan x="1406">addRights(Game) : void</tspan></text>
<text class="t m" y="672.5"><tspan x="1390">+</tspan><tspan x="1406">create(Long, Team) : void</tspan></text>
<text class="t m" y="685.5"><tspan x="1390">+</tspan><tspan x="1406">createPlayer(Long, Player) : Player</tspan></text>
<text class="t m" y="698.5"><tspan x="1390">+</tspan><tspan x="1406">findByToken(String) : Team</tspan></text>
<text class="t m" y="711.5"><tspan x="1390">+</tspan><tspan x="1406">getAssociatedInstances(Team) : List&lt;VariableInstance&gt;</tspan></text>
<text class="t m" y="724.5"><tspan x="1390">#</tspan><tspan x="1406">getEntityManager() : EntityManager</tspan></text>
<text class="t m" y="737.5"><tspan x="1390">+</tspan><tspan x="1406">joinTeam(Team, User) : Player</tspan></text>
<text class="t m" y="750.5"><tspan x="1390">+</tspan><tspan x="1406">joinTeam(Long, Long) : Player</tspan></text>
<text class="t m" y="763.5"><tspan x="1390">+</tspan><tspan x="1406">joinTeam(Team, Player) : void</tspan></text>
<text class="t m" y="776.5"><tspan x="1390">+</tspan><tspan x="1406">remove(Team) : void</tspan></text>
<text class="t m" y="789.5"><tspan x="1390">+</tspan><tspan x="1406">TeamFacade()</tspan></text>
<text class="t m" y="802.5"><tspan x="1390">+</tspan><tspan x="1406">update(Long, Team) : Team</tspan></text>
</g>

<g id="n-pf">
<rect class="sh" x="1689.5" y="557.5" width="286" height="261"/>
<rect class="box" x="1685.5" y="553.5" width="286" height="261"/>
<path class="sep" d="M1685.5,580.5H1971.5M1685.5,658.5H1971.5"/>
<text class="t ti" x="1828.5" y="571">ejb::PlayerFacade</text>
<text class="t a" y="594.5"><tspan x="1691">-</tspan><tspan x="1707">em:  EntityManager</tspan></text>
<text class="t a" y="607.5"><tspan x="1691">-</tspan><tspan x="1707">playerActionEvent:  Event&lt;PlayerAction&gt;</tspan></text>
<text class="t a" y="620.5"><tspan x="1691">-</tspan><tspan x="1707">stateMachineRunner:  StateMachineFacade</tspan></text>
<text class="t a" y="633.5"><tspan x="1691">-</tspan><tspan x="1707">teamEntityFacade:  TeamFacade</tspan></text>
<text class="t a" y="646.5"><tspan x="1691">-</tspan><tspan x="1707">userFacade:  UserFacade</tspan></text>
<text class="t m" y="672.5"><tspan x="1691">+</tspan><tspan x="1707">create(Long, Player) : void</tspan></text>
<text class="t m" y="685.5"><tspan x="1691">+</tspan><tspan x="1707">findByGameId(Long) : Player</tspan></text>
<text class="t m" y="698.5"><tspan x="1691">+</tspan><tspan x="1707">findByGameIdAndUserId(Long, Long) : Player</tspan></text>
<text class="t m" y="711.5"><tspan x="1691">+</tspan><tspan x="1707">findByGameModelId(Long) : Player</tspan></text>
<text class="t m" y="724.5"><tspan x="1691">+</tspan><tspan x="1707">findCurrentPlayer(Game) : Player</tspan></text>
<text class="t m" y="737.5"><tspan x="1691">+</tspan><tspan x="1707">getAssociatedInstances(Player) : List&lt;VariableInstance&gt;</tspan></text>
<text class="t m" y="750.5"><tspan x="1691">+</tspan><tspan x="1707">getByGameId(Long) : List&lt;Player&gt;</tspan></text>
<text class="t m" y="763.5"><tspan x="1691">+</tspan><tspan x="1707">getByGameModelId(Long) : List&lt;Player&gt;</tspan></text>
<text class="t m" y="776.5"><tspan x="1691">#</tspan><tspan x="1707">getEntityManager() : EntityManager</tspan></text>
<text class="t m" y="789.5"><tspan x="1691">+</tspan><tspan x="1707">PlayerFacade()</tspan></text>
<text class="t m" y="802.5"><tspan x="1691">+</tspan><tspan x="1707">remove(Player) : void</tspan></text>
</g>

<g id="n-vdf">
<rect class="sh" x="1119.5" y="858.5" width="312" height="287"/>
<rect class="box" x="1115.5" y="854.5" width="312" height="287"/>
<path class="sep" d="M1115.5,881.5H1427.5M1115.5,932.5H1427.5"/>
<text class="t ti" x="1271.5" y="872">ejb::VariableDescriptorFacade</text>
<text class="t a" y="895.5"><tspan x="1121">-</tspan><tspan x="1137">em:  EntityManager</tspan></text>
<text class="t a" y="908.5"><tspan x="1121">-</tspan><tspan x="1137">gameModelFacade:  GameModelFacade</tspan></text>
<text class="t a" y="921.5"><tspan x="1121">-</tspan><tspan x="1137" class="u">logger:  Logger = LoggerFactory.g... {readOnly}</tspan></text>
<text class="t m" y="947.5"><tspan x="1121">+</tspan><tspan x="1137">create(VariableDescriptor) : void</tspan></text>
<text class="t m" y="960.5"><tspan x="1121">+</tspan><tspan x="1137">create(GameModel, VariableDescriptor) : void</tspan></text>
<text class="t m" y="973.5"><tspan x="1121">+</tspan><tspan x="1137">create(Long, VariableDescriptor) : void</tspan></text>
<text class="t m" y="986.5"><tspan x="1121">+</tspan><tspan x="1137">createChild(Long, VariableDescriptor) : ListDescriptor</tspan></text>
<text class="t m" y="999.5"><tspan x="1121">+</tspan><tspan x="1137">createChild(ListDescriptor, VariableDescriptor) : ListDescriptor</tspan></text>
<text class="t m" y="1012.5"><tspan x="1121">+</tspan><tspan x="1137">duplicate(Long) : VariableDescriptor</tspan></text>
<text class="t m" y="1025.5"><tspan x="1121">+</tspan><tspan x="1137">findAvailableLabel(GameModel, String) : String</tspan></text>
<text class="t m" y="1038.5"><tspan x="1121">+</tspan><tspan x="1137">findByClass(GameModel, Class) : List&lt;VariableDescriptor&gt;</tspan></text>
<text class="t m" y="1051.5"><tspan x="1121">+</tspan><tspan x="1137">findByGameModelId(Long) : List&lt;VariableDescriptor&gt;</tspan></text>
<text class="t m" y="1064.5"><tspan x="1121">+</tspan><tspan x="1137">findByLabel(GameModel, String) : VariableDescriptor</tspan></text>
<text class="t m" y="1077.5"><tspan x="1121">+</tspan><tspan x="1137">findByName(GameModel, String) : VariableDescriptor</tspan></text>
<text class="t m" y="1090.5"><tspan x="1121">+</tspan><tspan x="1137">findParentListDescriptor(VariableDescriptor) : ListDescriptor</tspan></text>
<text class="t m" y="1103.5"><tspan x="1121">#</tspan><tspan x="1137">getEntityManager() : EntityManager</tspan></text>
<text class="t m" y="1116.5"><tspan x="1121">+</tspan><tspan x="1137">getUsedNames(Long) : List&lt;String&gt;</tspan></text>
<text class="t m" y="1129.5"><tspan x="1121">+</tspan><tspan x="1137">VariableDescriptorFacade()</tspan></text>
</g>

<g id="n-vif">
<rect class="sh" x="1478.5" y="858.5" width="292" height="261"/>
<rect class="box" x="1474.5" y="854.5" width="292" height="261"/>
<path class="sep" d="M1474.5,881.5H1766.5M1474.5,972.5H1766.5"/>
<text class="t ti" x="1620.5" y="872">ejb::VariableInstanceFacade</text>
<text class="t a" y="895.5"><tspan x="1480">-</tspan><tspan x="1496">em:  EntityManager</tspan></text>
<text class="t a" y="908.5"><tspan x="1480">-</tspan><tspan x="1496" class="u">logger:  Logger = LoggerFactory.g... {readOnly}</tspan></text>
<text class="t a" y="921.5"><tspan x="1480">-</tspan><tspan x="1496">playerFacade:  PlayerFacade</tspan></text>
<text class="t a" y="934.5"><tspan x="1480">-</tspan><tspan x="1496">requestFacade:  RequestFacade</tspan></text>
<text class="t a" y="947.5"><tspan x="1480">-</tspan><tspan x="1496">teamFacade:  TeamFacade</tspan></text>
<text class="t a" y="960.5"><tspan x="1480">-</tspan><tspan x="1496">variableDescriptorFacade:  VariableDescriptorFacade</tspan></text>
<text class="t m" y="986.5"><tspan x="1480">+</tspan><tspan x="1496">find(Long, Player) : VariableInstance</tspan></text>
<text class="t m" y="999.5"><tspan x="1480">+</tspan><tspan x="1496">find(Long, Long) : VariableInstance</tspan></text>
<text class="t m" y="1012.5"><tspan x="1480">+</tspan><tspan x="1496">findAllPlayer(VariableInstance) : List&lt;Player&gt;</tspan></text>
<text class="t m" y="1025.5"><tspan x="1480">+</tspan><tspan x="1496">findAPlayer(VariableInstance) : Player</tspan></text>
<text class="t m" y="1038.5"><tspan x="1480">+</tspan><tspan x="1496">findGame(VariableInstance) : Game</tspan></text>
<text class="t m" y="1051.5"><tspan x="1480">+</tspan><tspan x="1496">findGame(Long) : Game</tspan></text>
<text class="t m" y="1064.5"><tspan x="1480">#</tspan><tspan x="1496">getEntityManager() : EntityManager</tspan></text>
<text class="t m" y="1077.5"><tspan x="1480">+</tspan><tspan x="1496">update(Long, Long, VariableInstance) : VariableInstance</tspan></text>
<text class="t m" y="1090.5"><tspan x="1480">+</tspan><tspan x="1496">update(Long, VariableInstance) : VariableInstance</tspan></text>
<text class="t m" y="1103.5"><tspan x="1480">+</tspan><tspan x="1496">VariableInstanceFacade()</tspan></text>
</g>

<g id="n-sf">
<rect class="sh" x="1119.5" y="1184.5" width="320" height="274"/>
<rect class="box" x="1115.5" y="1180.5" width="320" height="274"/>
<path class="sep" d="M1115.5,1217.5H1435.5M1115.5,1308.5H1435.5"/>
<text class="st" x="1432" y="1193">Serializable</text>
<text class="t ti" x="1275.5" y="1209">ejb::ScriptFacade</text>
<text class="t a" y="1231.5"><tspan x="1121">-</tspan><tspan x="1137">em:  EntityManager</tspan></text>
<text class="t a" y="1244.5"><tspan x="1121">~</tspan><tspan x="1137">engineInvocationEvent:  Event&lt;EngineInvocationEvent&gt;</tspan></text>
<text class="t a" y="1257.5"><tspan x="1121">-</tspan><tspan x="1137" class="u">logger:  Logger = LoggerFactory.g... {readOnly}</tspan></text>
<text class="t a" y="1270.5"><tspan x="1121">-</tspan><tspan x="1137">playerEntityFacade:  PlayerFacade</tspan></text>
<text class="t a" y="1283.5"><tspan x="1121">-</tspan><tspan x="1137">requestManager:  RequestManager</tspan></text>
<text class="t a" y="1296.5"><tspan x="1121">-</tspan><tspan x="1137">variableDescriptorFacade:  VariableDescriptorFacade</tspan></text>
<text class="t m" y="1322.5"><tspan x="1121">+</tspan><tspan x="1137">eval(List&lt;Script&gt;, Map&lt;String, AbstractEntity&gt;) : Object</tspan></text>
<text class="t m" y="1335.5"><tspan x="1121">+</tspan><tspan x="1137">eval(List&lt;Script&gt;) : Object</tspan></text>
<text class="t m" y="1348.5"><tspan x="1121">+</tspan><tspan x="1137">eval(Script, Map&lt;String, AbstractEntity&gt;) : Object</tspan></text>
<text class="t m" y="1361.5"><tspan x="1121">+</tspan><tspan x="1137">eval(Player, Script) : Object</tspan></text>
<text class="t m" y="1374.5"><tspan x="1121">+</tspan><tspan x="1137">eval(Player, List&lt;Script&gt;) : Object</tspan></text>
<text class="t m" y="1387.5"><tspan x="1121">+</tspan><tspan x="1137">eval(Player, Script, Map&lt;String, AbstractEntity&gt;) : Object</tspan></text>
<text class="t m" y="1400.5"><tspan x="1121">+</tspan><tspan x="1137">eval(Player, List&lt;Script&gt;, Map&lt;String, AbstractEntity&gt;) : Object</tspan></text>
<text class="t m" y="1413.5"><tspan x="1121">+</tspan><tspan x="1137">eval(Long, Script) : Object</tspan></text>
<text class="t m" y="1426.5"><tspan x="1121">+</tspan><tspan x="1137">eval(Script) : Object</tspan></text>
<text class="t m" y="1439.5"><tspan x="1121">+</tspan><tspan x="1137">onConstruct() : void</tspan></text>
<text class="t m" y="1452.5"><tspan x="1121">+</tspan><tspan x="1137">onEngineInstantiation(EngineInvocationEvent) : void</tspan></text>
</g>

<g id="n-smf">
<rect class="sh" x="1814.5" y="858.5" width="444" height="222"/>
<rect class="box" x="1810.5" y="854.5" width="444" height="222"/>
<path class="sep" d="M1810.5,891.5H2254.5M1810.5,995.5H2254.5"/>
<text class="st" x="2251" y="867">Serializable</text>
<text class="t ti" x="2032.5" y="883">statemachine::StateMachineFacade</text>
<text class="t a" y="905.5"><tspan x="1816">-</tspan><tspan x="1832" class="u">logger:  org.slf4j.Logger = LoggerFactory.g... {readOnly}</tspan></text>
<text class="t a" y="918.5"><tspan x="1816">-</tspan><tspan x="1832">playerTransitions:  Map&lt;Player, HashSet&lt;Transition&gt;&gt; = new HashMap&lt;&gt;()</tspan></text>
<text class="t a" y="931.5"><tspan x="1816">-</tspan><tspan x="1832">requestManager:  RequestManager</tspan></text>
<text class="t a" y="944.5"><tspan x="1816">-</tspan><tspan x="1832">run:  Boolean = false</tspan></text>
<text class="t a" y="957.5"><tspan x="1816">-</tspan><tspan x="1832">scriptManager:  ScriptFacade</tspan></text>
<text class="t a" y="970.5"><tspan x="1816">-</tspan><tspan x="1832">variableDescriptorFacade:  VariableDescriptorFacade</tspan></text>
<text class="t a" y="983.5"><tspan x="1816">-</tspan><tspan x="1832">variableInstanceFacade:  VariableInstanceFacade</tspan></text>
<text class="t m" y="1009.5"><tspan x="1816">-</tspan><tspan x="1832">compute(Map&lt;Player, List&lt;Script&gt;&gt;) : void</tspan></text>
<text class="t m" y="1022.5"><tspan x="1816">+</tspan><tspan x="1832">PlayerActionListener(PlayerAction) : void</tspan></text>
<text class="t m" y="1035.5"><tspan x="1816">-</tspan><tspan x="1832">playerUpdated(Player) : void</tspan></text>
<text class="t m" y="1048.5"><tspan x="1816">+</tspan><tspan x="1832">resetEventListener(ResetEvent) : void</tspan></text>
<text class="t m" y="1061.5"><tspan x="1816">-</tspan><tspan x="1832">run(Map&lt;StateMachineInstance, Player&gt;, Map&lt;Player, HashSet&lt;Transition&gt;&gt;) : Boolean</tspan></text>
<text class="t m" y="1074.5"><tspan x="1816">+</tspan><tspan x="1832">StateMachineFacade()</tspan></text>
</g>

<g id="labels">
<text class="lb e" x="2244" y="846">~stateMachineRunner</text>
<text class="lb" x="1366" y="166">-requestManager</text>
<text class="lb" x="1366" y="195">-requestFacade</text>
<text class="lb" x="1367" y="314">-requestManager</text>
<text class="lb" x="1367" y="337">-requestManager</text>
<text class="lb e" x="1112" y="362">-gameModelFacade</text>
<text class="lb e" x="1108" y="230">-requestFacade</text>
<text class="lb e" x="1112" y="424">-gameModelFacade</text>
<text class="lb e" x="1112" y="466">-gameModelFacade</text>
<text class="lb e" x="1112" y="503">-gmFacade</text>
<text class="lb" x="1590" y="364">-re-requestManager</text>
<text class="lb e" x="1732" y="545">-playerFacade</text>
<text class="lb e" x="1682" y="545">-playerFacade</text>
<text class="lb e" x="1112" y="625">-gameFacade</text>
<text class="lb e" x="1682" y="602">-playerFacade</text>
<text class="lb e" x="1380" y="622">-teamFacade</text>
<text class="lb e" x="1380" y="572">-teamFacade</text>
<text class="lb e" x="1112" y="593">-gameFacade</text>
<text class="lb e" x="1112" y="679">-gameFacade</text>
<text class="lb" x="1373" y="679">-gameFacade</text>
<text class="lb e" x="1373" y="679">-teamFacad</text>
<text class="lb" x="1674" y="676">-teamEntityFacade</text>
<text class="lb e" x="1682" y="676">-playerFacade</text>
<text class="lb e" x="1682" y="807">-playerFacade</text>
<text class="lb e" x="1562" y="830">-teamFacade</text>
<text class="lb" x="1652" y="830">-playerFacade</text>
<text class="lb" x="1746" y="828">-playerEntityFacade</text>
<text class="lb e" x="1884" y="846">-stateMachineRunner</text>
<text class="lb" x="1717" y="948">-variableInstanceFacade</text>
<text class="lb" x="1376" y="1015">-variableDescriptorFacade</text>
<text class="lb" x="1391" y="972">-variableDescriptorFacade</text>
<text class="lb" x="1439" y="1333">-scriptManager</text>
<text class="lb e" x="1264" y="1157">-variableDescriptorFacade</text>
<text class="lb" x="1357" y="924">-variableInstanceFacade</text>
<text class="lb e" x="1112" y="854">-variableDescriptorFacade</text>
<text class="lb e" x="1112" y="971">-variableDescriptorFacade</text>
<text class="lb e" x="1112" y="927">-variableDescriptorFacade</text>
<text class="lb" x="1404" y="873">-variableInstanceFacade</text>
<text class="lb e" x="1112" y="1246">-scriptManager</text>
<text class="lb e" x="1112" y="1190">-scriptManager</text>
<text class="lb" x="1220" y="546">-gameModelEntityFacade</text>
<text class="lb" x="1015" y="546">-gameMod</text>
<text class="lb e" x="1114" y="546">-gmFacade</text>
</g>
</svg>
